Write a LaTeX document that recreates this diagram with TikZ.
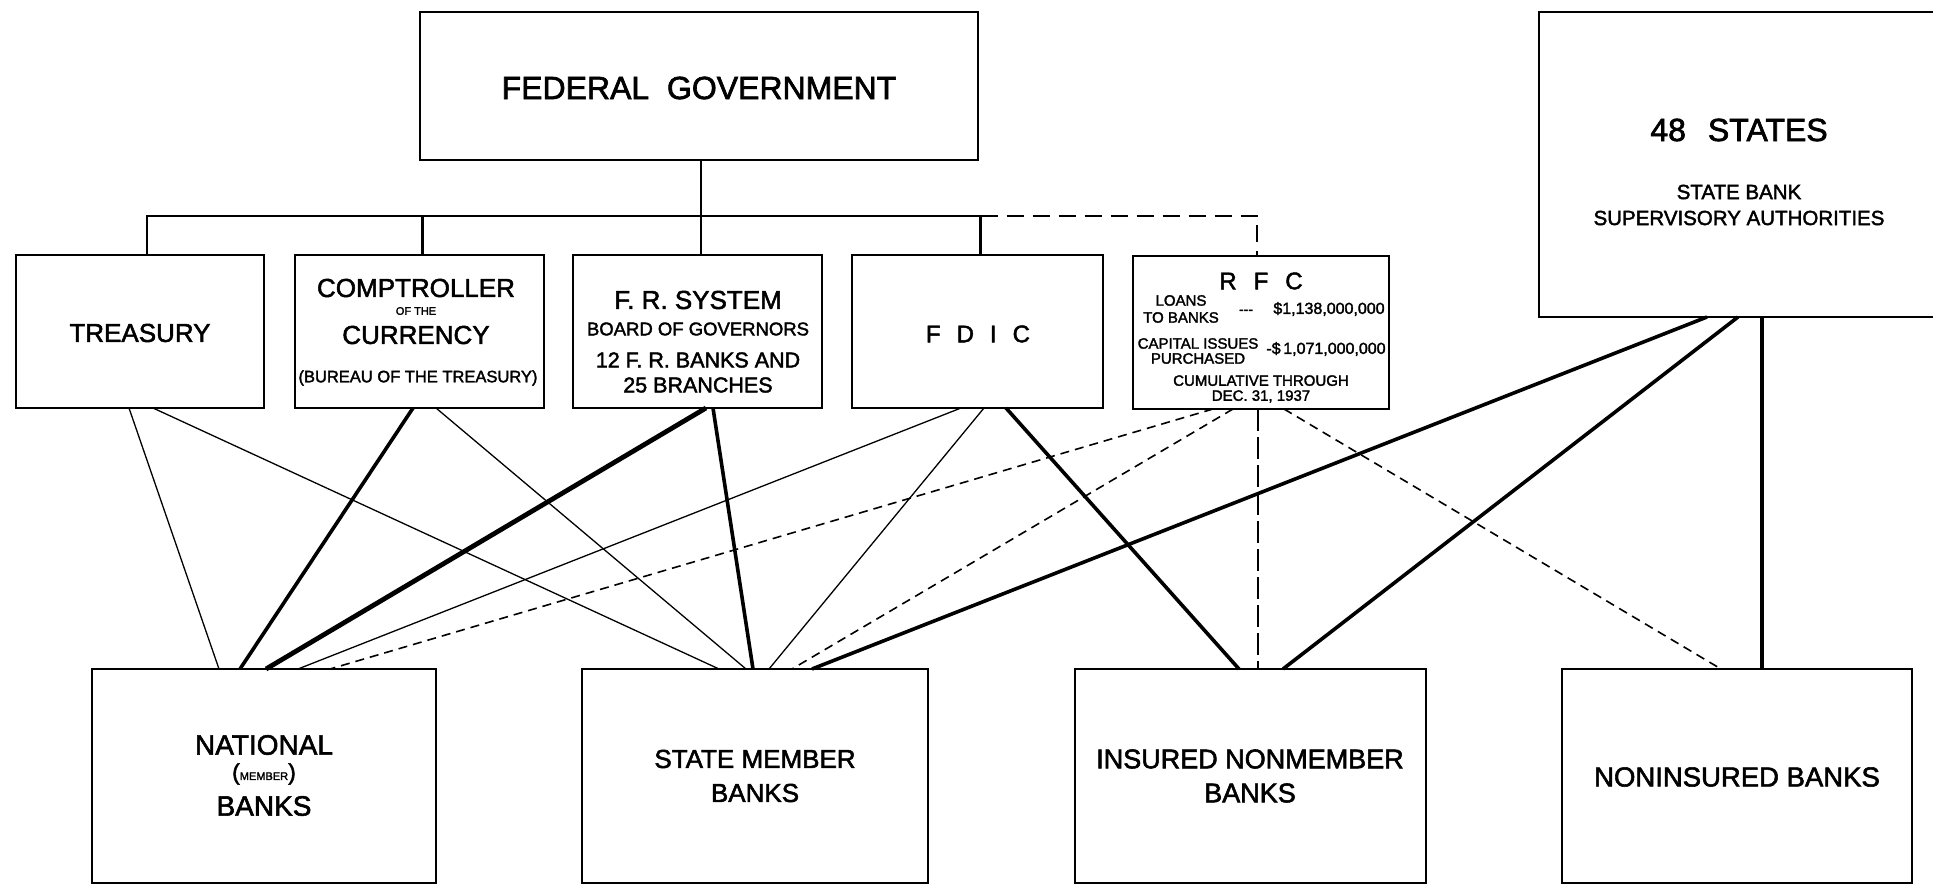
\documentclass[tikz,border=0pt]{standalone}
\usepackage{fontspec}
\setmainfont{Liberation Sans}[FakeBold=2]
\newcommand\fsz[1]{\fontsize{#1}{#1}\selectfont}
\begin{document}
\begin{tikzpicture}[x=1pt,y=-1pt,
  box/.style={draw,line width=2.4pt,fill=white,inner sep=0pt,outer sep=0pt},
  lbl/.style={inner sep=0pt,outer sep=0pt,align=center},
  busline/.style={line width=2.6pt},
  busdash/.style={line width=2.6pt,dash pattern=on 17pt off 9pt},
  conthin/.style={line width=1.3pt},
  conthick/.style={line width=3.6pt},
  conheavy/.style={line width=4.8pt},
  condash/.style={line width=1.6pt,dash pattern=on 9pt off 6pt},
  conlong/.style={line width=1.6pt,dash pattern=on 22pt off 6pt}]
\useasboundingbox (0,0) rectangle (1933,885);
\clip (0,0) rectangle (1933,885);
\coordinate (bus) at (0,216);
% boxes
\node[box,minimum width=558pt,minimum height=148pt] (fed) at (699,86) {};
\node[box,minimum width=248pt,minimum height=153pt] (trea) at (140,331.5) {};
\node[box,minimum width=249pt,minimum height=153pt] (comp) at (419.5,331.5) {};
\node[box,minimum width=249pt,minimum height=153pt] (frs) at (697.5,331.5) {};
\node[box,minimum width=251pt,minimum height=153pt] (fdic) at (977.5,331.5) {};
\node[box,minimum width=256pt,minimum height=153pt] (rfc) at (1261,332.5) {};
\node[box,minimum width=411pt,minimum height=305pt] (states) at (1744.5,164.5) {};
\node[box,minimum width=344pt,minimum height=214pt] (nat) at (264,776) {};
\node[box,minimum width=346pt,minimum height=214pt] (smb) at (755,776) {};
\node[box,minimum width=351pt,minimum height=214pt] (inm) at (1250.5,776) {};
\node[box,minimum width=350pt,minimum height=214pt] (nib) at (1737,776) {};
% bus
\draw[busline] ([xshift=2pt]fed.south) -- ([xshift=2pt]fed.south |- frs.north);
\draw[busline] ([xshift=7pt]trea.north) -- ([xshift=7pt]trea.north |- bus) -- ([xshift=3pt]fdic.north |- bus) -- ([xshift=3pt]fdic.north);
\draw[busline] ([xshift=3pt]comp.north) -- ([xshift=3pt]comp.north |- bus);
\draw[busdash] ([xshift=3pt]fdic.north |- bus) -- ([xshift=-4pt]rfc.north |- bus) -- ([xshift=-4pt]rfc.north);
% connectors
\draw[conthin] ([xshift=-11pt]trea.south) -- ([xshift=-45pt]nat.north);
\draw[conthin] ([xshift=13pt]trea.south) -- ([xshift=-36pt]smb.north);
\draw[conthick] ([xshift=-6.5pt]comp.south) -- ([xshift=-24pt]nat.north);
\draw[conthin] ([xshift=16.5pt]comp.south) -- ([xshift=-9pt]smb.north);
\draw[conheavy] ([xshift=8.5pt]frs.south) -- ([xshift=2pt]nat.north);
\draw[conthick] ([xshift=15.5pt]frs.south) -- ([xshift=-2pt]smb.north);
\draw[conthin] ([xshift=-16.5pt]fdic.south) -- ([xshift=34pt]nat.north);
\draw[conthin] ([xshift=6.5pt]fdic.south) -- ([xshift=14pt]smb.north);
\draw[conthick] ([xshift=28.5pt]fdic.south) -- ([xshift=-11.5pt]inm.north);
\draw[condash] ([xshift=-48pt]rfc.south) -- ([xshift=66pt]nat.north);
\draw[condash] ([xshift=-28pt]rfc.south) -- ([xshift=37pt]smb.north);
\draw[conlong] ([xshift=-3pt]rfc.south) -- ([xshift=7.5pt]inm.north);
\draw[condash] ([xshift=23pt]rfc.south) -- ([xshift=-16pt]nib.north);
\draw[conthick] ([xshift=-37.5pt]states.south) -- ([xshift=57pt]smb.north);
\draw[conthick] ([xshift=-6.5pt]states.south) -- ([xshift=32.5pt]inm.north);
\draw[conthick] ([xshift=17.5pt]states.south) -- ([xshift=25pt]nib.north);
% texts
\node[lbl] (tfed) at (699,88) {\fsz{32}FEDERAL\ \ GOVERNMENT};
\node[lbl] (ttrea) at (140,333) {\fsz{26}TREASURY};
\node[lbl] (tcomp1) at (416,288) {\fsz{26}COMPTROLLER};
\node[lbl] (tcomp2) at (416,311) {\fsz{11}OF THE};
\node[lbl] (tcomp3) at (416,335) {\fsz{26}CURRENCY};
\node[lbl] (tcomp4) at (418,378) {\fsz{16.5}(BUREAU OF THE TREASURY)};
\node[lbl] (tfrs1) at (698,300) {\fsz{26}F. R. SYSTEM};
\node[lbl] (tfrs2) at (698,329) {\fsz{18.5}BOARD OF GOVERNORS};
\node[lbl] (tfrs3) at (698,360) {\fsz{21.5}12 F. R. BANKS AND};
\node[lbl] (tfrs4) at (698,385) {\fsz{21.5}25 BRANCHES};
\node[lbl] (tfdic) at (978,334) {\fsz{24}F\hspace{16pt}D\hspace{16pt}I\hspace{16pt}C};
\node[lbl] (trfc1) at (1261,281) {\fsz{24}R\hspace{17pt}F\hspace{17pt}C};
\node[lbl,font={\fontsize{15}{17}\selectfont}] (trfc2) at (1181,309) {LOANS\\TO BANKS};
\node[lbl] (trfc3) at (1246,312) {\fsz{14}-{}-{}-};
\node[lbl] (trfc4) at (1329,309) {\fsz{16}\$1,138,000,000};
\node[lbl,font={\fontsize{15}{15}\selectfont}] (trfc5) at (1198,351) {CAPITAL ISSUES\\PURCHASED};
\node[lbl] (trfc6) at (1326,349) {\fsz{16}-\$\,1,071,000,000};
\node[lbl,font={\fontsize{15}{15}\selectfont}] (trfc7) at (1261,389) {CUMULATIVE THROUGH\\DEC. 31, 1937};
\node[lbl] (tst1) at (1739,130) {\fsz{32}48\hspace{22pt}STATES};
\node[lbl] (tst2) at (1739,192) {\fsz{20.5}STATE BANK};
\node[lbl] (tst3) at (1739,218) {\fsz{20.5}SUPERVISORY AUTHORITIES};
\node[lbl] (tnat1) at (264,745) {\fsz{28}NATIONAL};
\node[lbl] (tnat2) at (264,774) {{\fsz{23}(}{\fsz{11}MEMBER}{\fsz{23})}};
\node[lbl] (tnat3) at (264,806) {\fsz{28}BANKS};
\node[lbl] (tsmb1) at (755,759) {\fsz{26}STATE MEMBER};
\node[lbl] (tsmb2) at (755,793) {\fsz{26}BANKS};
\node[lbl] (tinm1) at (1250,759) {\fsz{27}INSURED NONMEMBER};
\node[lbl] (tinm2) at (1250,793) {\fsz{27}BANKS};
\node[lbl] (tnib) at (1737,777) {\fsz{27.5}NONINSURED BANKS};
\end{tikzpicture}
\end{document}
